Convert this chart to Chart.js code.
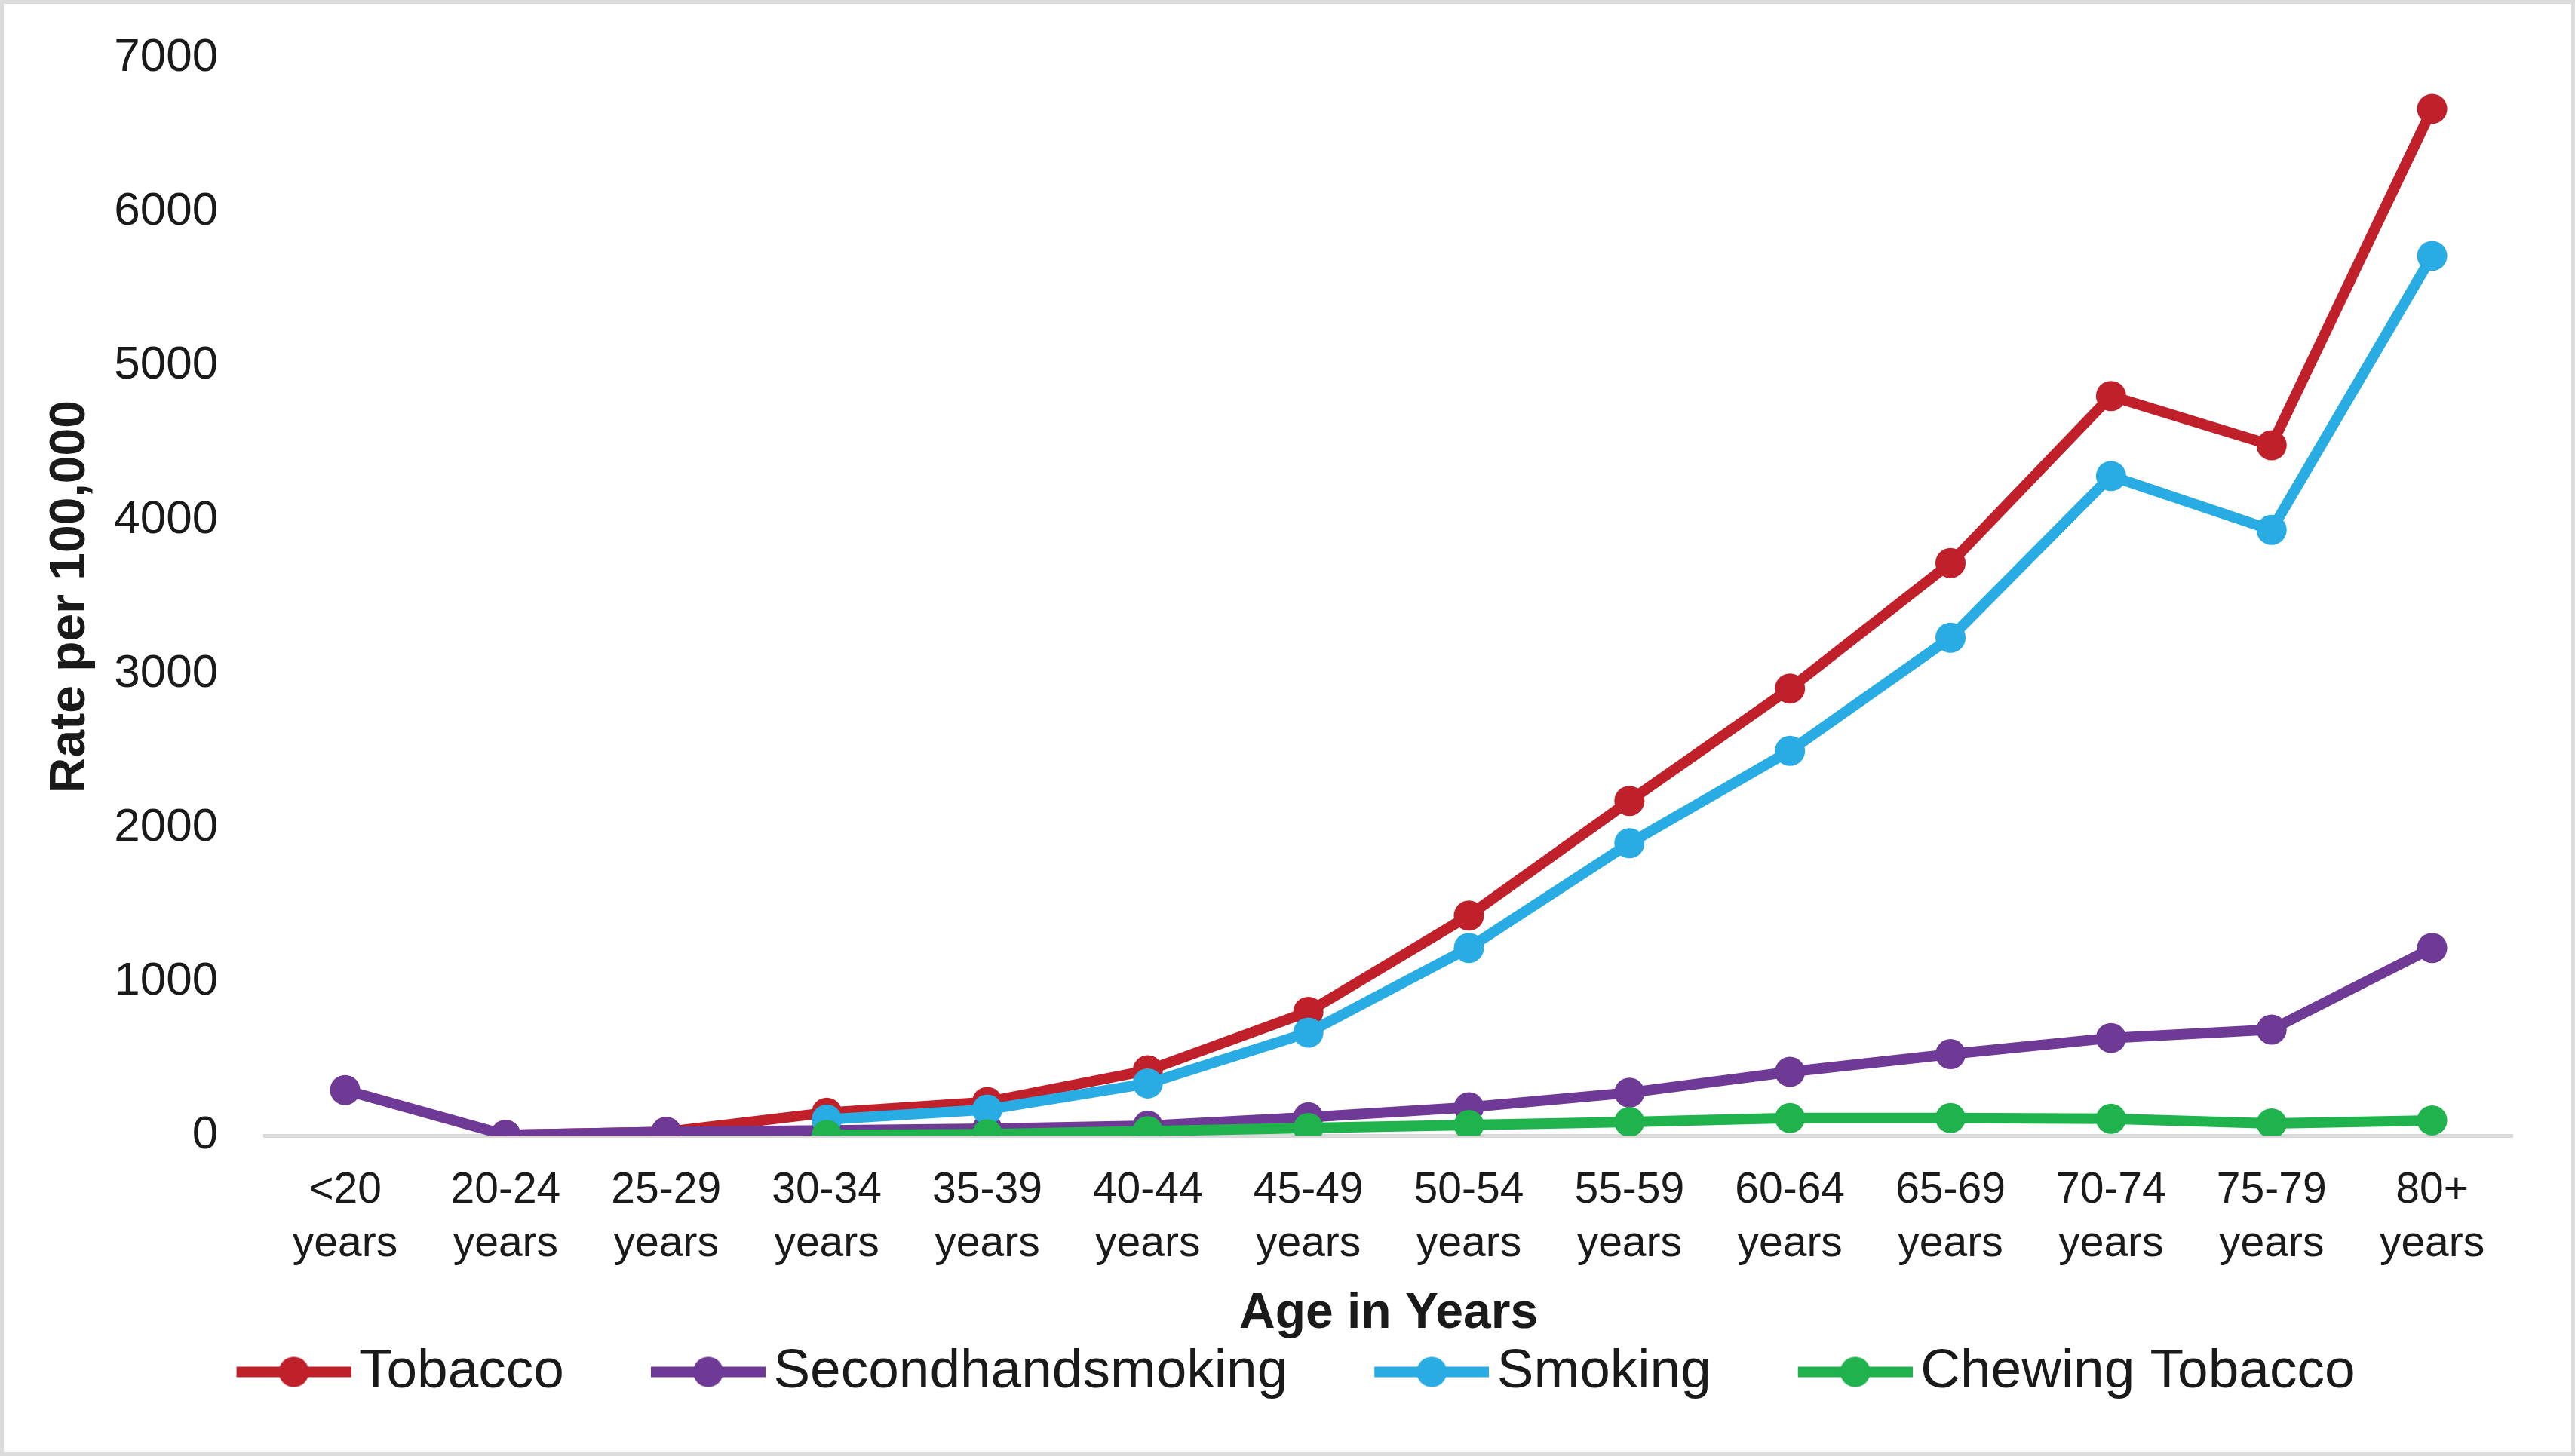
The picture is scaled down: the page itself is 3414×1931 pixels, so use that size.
<!DOCTYPE html>
<html>
<head>
    <title>Rate per 100,000 by age</title>
    <meta charset="UTF-8">
    <script src="https://cdn.jsdelivr.net/npm/chart.js@4.4.1/dist/chart.umd.min.js"></script>
    <style>
        html, body { margin: 0; padding: 0; background: #fff; }
        #wrap { width: 3414px; height: 1931px; box-sizing: border-box; border: 5px solid #dcdcdc; background: #fff; }
    </style>
</head>
<body>
    <div id="wrap"><canvas id="myChart"></canvas></div>
    <script>
        let ageGroups = ['<20', '20-24', '25-29', '30-34', '35-39', '40-44', '45-49',
            '50-54', '55-59', '60-64', '65-69', '70-74', '75-79', '80+'];
        let tobacco = [null, 5, 25, 150, 220, 425, 805, 1430, 2175, 2905, 3720, 4805, 4485, 6670];
        let secondhand = [297, 5, 25, 35, 45, 65, 120, 185, 280, 415, 530, 635, 690, 1220];
        let smoking = [null, null, null, 105, 170, 340, 670, 1220, 1900, 2500, 3235, 4285, 3935, 5715];
        let chewing = [null, null, null, 5, 10, 30, 50, 70, 90, 115, 115, 110, 80, 100];
        let yTicks = [0, 1000, 2000, 3000, 4000, 5000, 6000, 7000];

        const font = "'Liberation Sans', Arial, sans-serif";
        const legendBox = 231;

        // legend marker: line with a dot in the middle, sitting at the right of a wider canvas
        function legendMark(color) {
            let c = document.createElement('canvas');
            c.width = legendBox + 52;
            c.height = 44;
            let g = c.getContext('2d');
            let x0 = c.width - 152;
            g.strokeStyle = color;
            g.lineWidth = 14;
            g.beginPath();
            g.moveTo(x0, 22);
            g.lineTo(c.width, 22);
            g.stroke();
            g.fillStyle = color;
            g.beginPath();
            g.arc(x0 + 76, 22, 20, 0, Math.PI * 2);
            g.fill();
            return c;
        }

        function series(label, data, color, order) {
            return {
                label: label,
                data: data,
                borderColor: color,
                backgroundColor: color,
                borderWidth: 14,
                pointRadius: 20,
                pointHoverRadius: 20,
                pointBorderWidth: 0,
                pointStyle: 'circle',
                legendMark: legendMark(color),
                fill: false,
                tension: 0,
                order: order
            };
        }

        // nudge the legend a little to the left so it sits centred like the original
        const legendShift = {
            id: 'legendShift',
            afterLayout(chart) {
                chart.legend.left -= 27;
                chart.legend.right -= 27;
            }
        };

        var ctx = document.getElementById('myChart').getContext('2d');
        var myChart = new Chart(ctx, {
            type: 'line',
            data: {
                labels: ageGroups.map(a => [a, 'years']),
                datasets: [
                    series('Tobacco', tobacco, '#C0202A', 3),
                    series('Secondhandsmoking', secondhand, '#6E3A96', 2),
                    series('Smoking', smoking, '#29ACE3', 1),
                    series('Chewing Tobacco', chewing, '#20B24C', 0)
                ]
            },
            plugins: [legendShift],
            options: {
                responsive: true,
                maintainAspectRatio: false,
                animation: false,
                layout: { padding: { top: 0, left: 49, right: 78, bottom: 60 } },
                plugins: {
                    tooltip: { enabled: false },
                    legend: {
                        position: 'bottom',
                        labels: {
                            usePointStyle: true,
                            pointStyleWidth: legendBox,
                            boxHeight: 44,
                            padding: 10,
                            color: '#1a1a1a',
                            font: { family: font, size: 73 },
                            generateLabels: function (chart) {
                                return chart.data.datasets.map((ds, i) => ({
                                    text: ds.label,
                                    datasetIndex: i,
                                    pointStyle: ds.legendMark,
                                    fillStyle: ds.borderColor,
                                    strokeStyle: ds.borderColor,
                                    lineWidth: 0,
                                    fontColor: '#1a1a1a',
                                    hidden: false
                                }));
                            },
                            sort: (a, b) => a.datasetIndex - b.datasetIndex
                        }
                    }
                },
                scales: {
                    x: {
                        offset: true,
                        grid: { display: false, drawTicks: false },
                        border: { display: true, color: '#d9d9d9', width: 5 },
                        ticks: {
                            color: '#1a1a1a',
                            padding: 37,
                            maxRotation: 0,
                            autoSkip: false,
                            font: { family: font, size: 57, lineHeight: 1.25 }
                        },
                        title: {
                            display: true,
                            text: 'Age in Years',
                            color: '#1a1a1a',
                            padding: { top: -20, bottom: -9 },
                            font: { family: font, size: 66, weight: 'bold' }
                        }
                    },
                    y: {
                        min: 0,
                        max: 7000,
                        afterBuildTicks: axis => { axis.ticks = yTicks.map(v => ({ value: v })); },
                        afterFit: axis => { axis.paddingTop = 72; },
                        grid: { display: false, drawTicks: false },
                        border: { display: false },
                        ticks: {
                            color: '#1a1a1a',
                            padding: 62,
                            font: { family: font, size: 62 },
                            callback: v => String(v)
                        },
                        title: {
                            display: true,
                            text: 'Rate per 100,000',
                            color: '#1a1a1a',
                            padding: { top: 0, bottom: -44 },
                            font: { family: font, size: 66, weight: 'bold' }
                        }
                    }
                }
            }
        });
    </script>
</body>
</html>
